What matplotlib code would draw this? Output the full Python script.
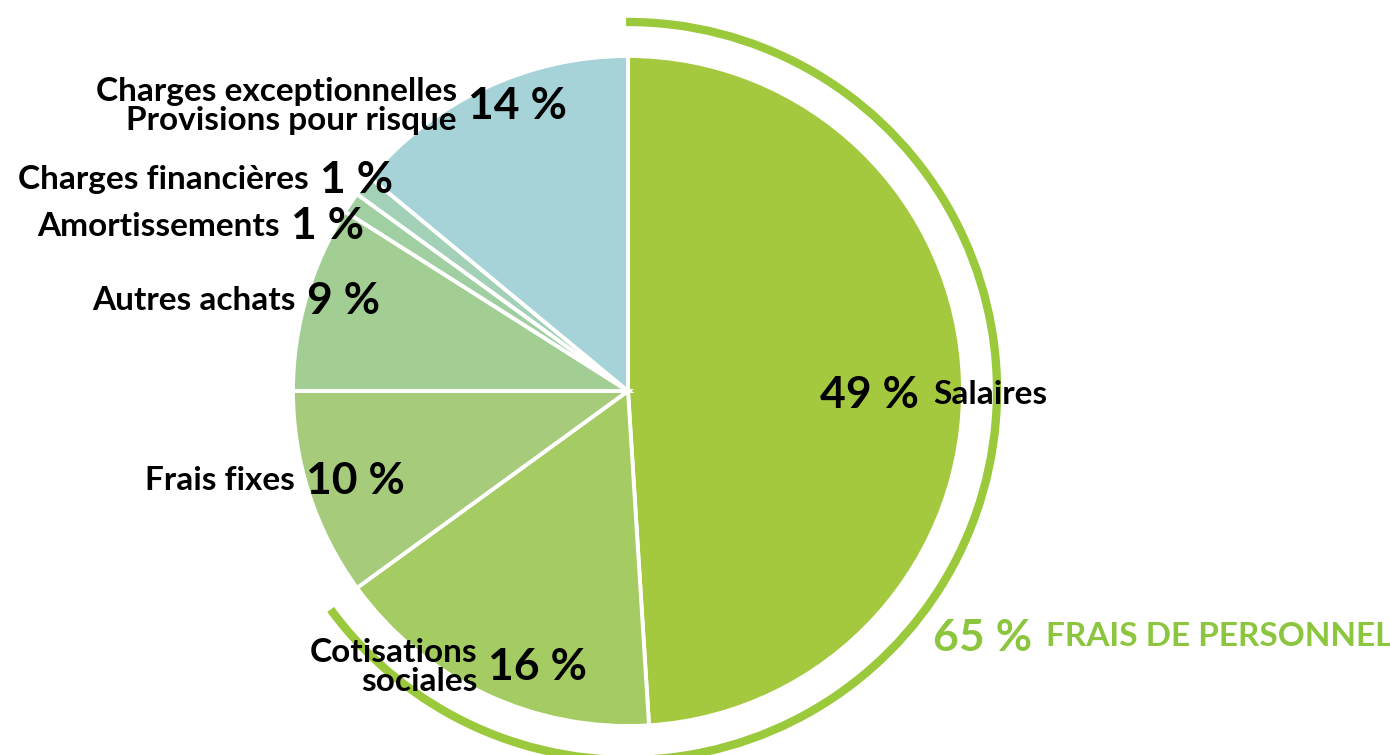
import matplotlib.pyplot as plt
from matplotlib.patches import Arc

# parts, clockwise from the top
labels = ["Salaires", "Cotisations\nsociales", "Frais fixes", "Autres achats",
          "Amortissements", "Charges financières",
          "Charges exceptionnelles\nProvisions pour risque"]
values = [49, 16, 10, 9, 1, 1, 14]
colors = ["#a4c93f", "#a5cb63", "#a6cc7b", "#a2ce94", "#a0cfa2", "#a2d1b8", "#a5d3d7"]
personnel_share = 65
personnel_label = "FRAIS DE PERSONNEL"

W, H = 1390, 755
fig = plt.figure(figsize=(W / 100, H / 100), dpi=100)
ax = fig.add_axes([0, 0, 1, 1])

cx, cy, r = 628, H - 391, 335
ax.pie(values, colors=colors, startangle=90, counterclock=False,
       center=(cx, cy), radius=r, frame=True,
       wedgeprops=dict(edgecolor="white", linewidth=2.8))
ax.set_xlim(0, W)
ax.set_ylim(0, H)
ax.set_aspect("equal")
ax.axis("off")

green = "#9bc93c"
span = personnel_share * 3.6
ax.add_patch(Arc((cx, cy), 2 * 369, 2 * 369, theta1=90.3 - span, theta2=90.3,
                 color=green, lw=6))

font = "Lato"
lab_size = 24
pct_size = 32

def label(x, y, text, pct, gap=11):
    # text right aligned before x, percentage starting after x
    ax.text(x - gap, H - y, text, ha="right", va="center", fontsize=lab_size,
            fontweight="bold", family=font, linespacing=0.97)
    ax.text(x, H - y, f"{pct} %", ha="left", va="center", fontsize=pct_size,
            fontweight="bold", family=font)

label(468, 106, labels[6], values[6])
label(320, 180, labels[5], values[5])
label(291, 226, labels[4], values[4])
label(307, 301, labels[3], values[3])
label(306, 481, labels[2], values[2])
label(488, 667, labels[1], values[1])

ax.text(820, H - 395, f"{values[0]} %", ha="left", va="center", fontsize=pct_size,
        fontweight="bold", family=font)
ax.text(933, H - 395, labels[0], ha="left", va="center", fontsize=lab_size,
        fontweight="bold", family=font)

ax.text(933, H - 638, f"{personnel_share} %", ha="left", va="center",
        fontsize=pct_size, fontweight="bold", family=font, color="#8cc63f")
ax.text(1046, H - 637, personnel_label, ha="left", va="center",
        fontsize=lab_size, fontweight="bold", family=font, color="#8cc63f")

fig.savefig("out.png", dpi=100)
